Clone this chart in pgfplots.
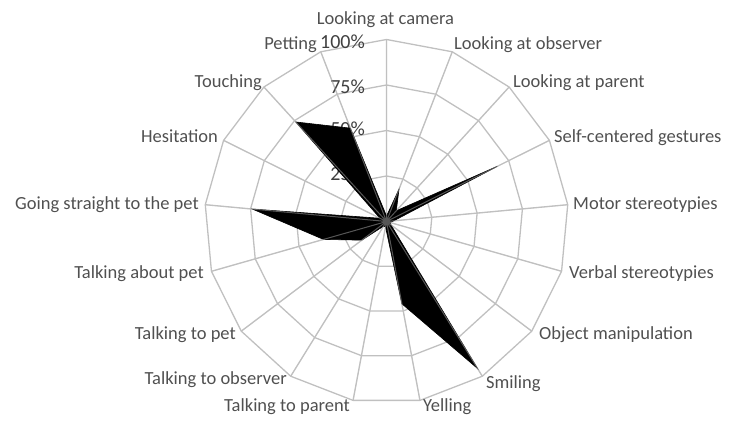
\documentclass[border=0pt]{standalone}
\usepackage{pgfplots}
\pgfplotsset{compat=1.18}
\usepackage{fontspec}
\setmainfont{Carlito}
\definecolor{gridgray}{RGB}{192,192,192}
\definecolor{labgray}{RGB}{80,80,80}
\definecolor{tickgray}{RGB}{64,64,64}
\begin{document}
\begin{tikzpicture}
\begin{axis}[
  scale only axis, width=733pt, height=421pt,
  xmin=-212.36, xmax=190.38, ymin=-109.62, ymax=121.70,
  hide axis, clip=false,
]
\coordinate (LL) at (rel axis cs:0,0);
\coordinate (UR) at (rel axis cs:1,1);
\coordinate (O) at (axis cs:0,0);
% rings
\addplot[gridgray, line width=1.3pt, data cs=polar, mark=none] coordinates {(90,25) (68.824,25) (47.647,25) (26.471,25) (5.294,25) (-15.882,25) (-37.059,25) (-58.235,25) (-79.412,25) (-100.588,25) (-121.765,25) (-142.941,25) (-164.118,25) (-185.294,25) (-206.471,25) (-227.647,25) (-248.824,25)} -- cycle;
\addplot[gridgray, line width=1.3pt, data cs=polar, mark=none] coordinates {(90,50) (68.824,50) (47.647,50) (26.471,50) (5.294,50) (-15.882,50) (-37.059,50) (-58.235,50) (-79.412,50) (-100.588,50) (-121.765,50) (-142.941,50) (-164.118,50) (-185.294,50) (-206.471,50) (-227.647,50) (-248.824,50)} -- cycle;
\addplot[gridgray, line width=1.3pt, data cs=polar, mark=none] coordinates {(90,75) (68.824,75) (47.647,75) (26.471,75) (5.294,75) (-15.882,75) (-37.059,75) (-58.235,75) (-79.412,75) (-100.588,75) (-121.765,75) (-142.941,75) (-164.118,75) (-185.294,75) (-206.471,75) (-227.647,75) (-248.824,75)} -- cycle;
\addplot[gridgray, line width=1.3pt, data cs=polar, mark=none] coordinates {(90,100) (68.824,100) (47.647,100) (26.471,100) (5.294,100) (-15.882,100) (-37.059,100) (-58.235,100) (-79.412,100) (-100.588,100) (-121.765,100) (-142.941,100) (-164.118,100) (-185.294,100) (-206.471,100) (-227.647,100) (-248.824,100)} -- cycle;
% spokes
\addplot[gridgray, line width=1.3pt, data cs=polar, mark=none] coordinates {(90,100) (0,0) (68.824,100) (0,0) (47.647,100) (0,0) (26.471,100) (0,0) (5.294,100) (0,0) (-15.882,100) (0,0) (-37.059,100) (0,0) (-58.235,100) (0,0) (-79.412,100) (0,0) (-100.588,100) (0,0) (-121.765,100) (0,0) (-142.941,100) (0,0) (-164.118,100) (0,0) (-185.294,100) (0,0) (-206.471,100) (0,0) (-227.647,100) (0,0) (-248.824,100) (0,0)};
% percent labels
\node[anchor=base east, text=tickgray, font=\fontsize{20}{22}\selectfont, inner sep=0pt] at (axis cs:-11.8,95.2) {100\%};
\node[anchor=base east, text=tickgray, font=\fontsize{20}{22}\selectfont, inner sep=0pt] at (axis cs:-11.8,70.4) {75\%};
\node[anchor=base east, text=tickgray, font=\fontsize{20}{22}\selectfont, inner sep=0pt] at (axis cs:-11.8,47.5) {50\%};
\node[anchor=base east, text=tickgray, font=\fontsize{20}{22}\selectfont, inner sep=0pt] at (axis cs:-11.8,22.6) {25\%};
% data
\addplot[fill=black, draw=black, line width=0.6pt, data cs=polar, mark=none] coordinates {(90,3) (68.824,19) (47.647,8) (26.471,68) (5.294,4) (-15.882,2) (-37.059,3) (-58.235,95) (-79.412,46) (-100.588,3) (-121.765,3) (-142.941,17) (-164.118,36) (-185.294,74) (-206.471,4) (-227.647,74) (-248.824,55)} -- cycle;
% spokes faintly over the fill
\addplot[gridgray, line width=1pt, opacity=0.45, data cs=polar, mark=none] coordinates {(90,100) (0,0) (68.824,100) (0,0) (47.647,100) (0,0) (26.471,100) (0,0) (5.294,100) (0,0) (-15.882,100) (0,0) (-37.059,100) (0,0) (-58.235,100) (0,0) (-79.412,100) (0,0) (-100.588,100) (0,0) (-121.765,100) (0,0) (-142.941,100) (0,0) (-164.118,100) (0,0) (-185.294,100) (0,0) (-206.471,100) (0,0) (-227.647,100) (0,0) (-248.824,100) (0,0)};
\end{axis}
\pgfresetboundingbox
\path (LL) rectangle (UR);
\begin{scope}[every node/.style={text=labgray, font=\fontsize{18.5}{20}\selectfont, inner sep=0pt}]
\node[anchor=base] at ([shift={(-1pt,196.5pt)}]O) {Looking at camera};
\node[anchor=base west] at ([shift={(67.5pt,171.5pt)}]O) {Looking at observer};
\node[anchor=base west] at ([shift={(126.5pt,134.2pt)}]O) {Looking at parent};
\node[anchor=base west] at ([shift={(167.5pt,78.8pt)}]O) {Self-centered gestures};
\node[anchor=base west] at ([shift={(186.5pt,12.2pt)}]O) {Motor stereotypies};
\node[anchor=base west] at ([shift={(182.5pt,-56.8pt)}]O) {Verbal stereotypies};
\node[anchor=base west] at ([shift={(152.5pt,-118.5pt)}]O) {Object manipulation};
\node[anchor=base west] at ([shift={(99.5pt,-166.8pt)}]O) {Smiling};
\node[anchor=base west] at ([shift={(36.5pt,-190.2pt)}]O) {Yelling};
\node[anchor=base east] at ([shift={(-36.5pt,-190.2pt)}]O) {Talking to parent};
\node[anchor=base east] at ([shift={(-99.5pt,-163.5pt)}]O) {Talking to observer};
\node[anchor=base east] at ([shift={(-150.5pt,-118.5pt)}]O) {Talking to pet};
\node[anchor=base east] at ([shift={(-182.5pt,-56.8pt)}]O) {Talking about pet};
\node[anchor=base east] at ([shift={(-187.5pt,12.2pt)}]O) {Going straight to the pet};
\node[anchor=base east] at ([shift={(-168.5pt,78.8pt)}]O) {Hesitation};
\node[anchor=base east] at ([shift={(-124.5pt,134.2pt)}]O) {Touching};
\node[anchor=base east] at ([shift={(-69.5pt,171.5pt)}]O) {Petting};
\end{scope}
\end{tikzpicture}
\end{document}
